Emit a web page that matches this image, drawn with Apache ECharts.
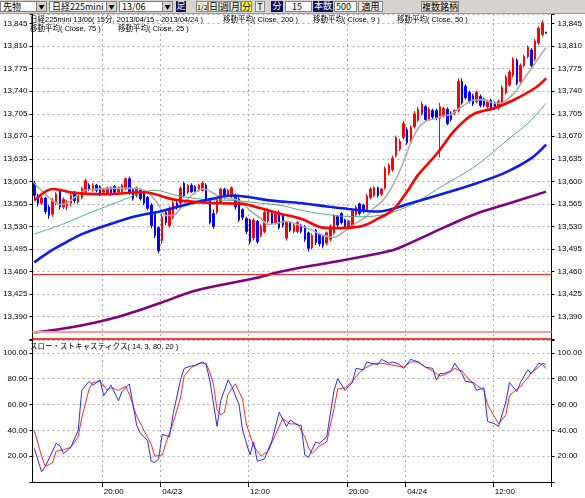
<!DOCTYPE html>
<html>
<head>
<meta charset="utf-8">
<script src="https://cdn.jsdelivr.net/npm/echarts@6/dist/echarts.min.js"></script>
<style>
  html, body { margin: 0; padding: 0; background: #fff; }
  #wrap { position: relative; width: 585px; height: 498px; overflow: hidden; }
  #chart { position: absolute; left: 0; top: 0; width: 585px; height: 498px; }
  #toolbar {
    position: absolute; left: 0; top: 0; width: 585px; height: 13px;
    background: #d6d3ce; border-bottom: 1px solid #9a9a9a; z-index: 2;
    font: 9px "Noto Sans CJK JP", sans-serif; color: #000;
  }
  .tb { position: absolute; top: 1px; height: 11px; line-height: 10px; box-sizing: border-box; white-space: nowrap; overflow: hidden; }
  .sel { background: #fff; border: 1px solid #7f7f7f; padding-left: 2px; }
  .drop { position: absolute; right: 0; top: 0; width: 9px; height: 9px; background: #d6d3ce; border-left: 1px solid #7f7f7f; font-size: 6px; text-align: center; line-height: 9px; }
  .dark { background: #10105a; color: #fff; text-align: center; }
  .btn { background: #ece9e4; border: 1px solid #8a8a8a; text-align: center; }
  .yel { background: #ffff30; border: 1px solid #8a8a8a; text-align: center; }
  .inp { background: #fff; border: 1px solid #7f7f7f; text-align: right; padding-right: 9px; }
</style>
</head>
<body>
<div id="wrap">
  <div id="toolbar">
    <div class="tb sel" style="left:0;width:47px">先物<span class="drop">▼</span></div>
    <div class="tb sel" style="left:49px;width:68px">日経225mini<span class="drop">▼</span></div>
    <div class="tb sel" style="left:119px;width:54px">13/06<span class="drop">▼</span></div>
    <div class="tb dark" style="left:176px;width:10px">足</div>
    <div class="tb btn" style="left:196px;width:12px;font-size:7px">1/2</div>
    <div class="tb btn" style="left:208px;width:11px">日</div>
    <div class="tb btn" style="left:219px;width:11px">週</div>
    <div class="tb btn" style="left:230px;width:11px">月</div>
    <div class="tb yel" style="left:241px;width:11px">分</div>
    <div class="tb btn" style="left:255px;width:10px">T</div>
    <div class="tb dark" style="left:271px;width:12px">分</div>
    <div class="tb inp" style="left:285px;width:27px">15</div>
    <div class="tb dark" style="left:313px;width:20px">本数</div>
    <div class="tb inp" style="left:334px;width:23px;padding-right:5px">500</div>
    <div class="tb btn" style="left:358px;width:25px">適用</div>
    <div class="tb btn" style="left:421px;width:38px">複数銘柄</div>
  </div>
  <div id="chart"></div>
</div>
<script>
// 15分足 [始値, 終値, 安値, 高値]
const candles = [
  [13597,13578,13572,13601],[13578,13566,13561,13581],[13566,13574,13563,13577],[13574,13553,13549,13576],
  [13560,13547,13542,13563],[13549,13570,13545,13574],[13566,13580,13563,13583],[13585,13560,13556,13588],
  [13560,13572,13557,13575],[13562,13568,13555,13571],[13566,13578,13561,13581],[13583,13570,13566,13585],
  [13568,13580,13565,13582],[13575,13589,13572,13591],[13583,13601,13580,13604],[13594,13588,13585,13597],
  [13586,13594,13584,13597],[13594,13586,13583,13596],[13592,13580,13577,13594],[13583,13587,13580,13590],
  [13582,13590,13579,13592],[13590,13580,13577,13592],[13592,13583,13580,13594],[13583,13590,13581,13592],
  [13584,13594,13582,13596],[13588,13604,13586,13606],[13604,13582,13579,13607],[13587,13573,13570,13589],
  [13578,13590,13575,13592],[13586,13573,13570,13588],[13583,13566,13563,13585],[13575,13558,13555,13577],
  [13563,13531,13527,13566],[13550,13516,13512,13552],[13528,13492,13488,13530],[13508,13545,13503,13550],
  [13552,13536,13532,13555],[13531,13558,13528,13561],[13544,13566,13541,13569],[13566,13560,13556,13569],
  [13566,13589,13563,13592],[13597,13578,13575,13599],[13583,13594,13580,13596],[13594,13584,13582,13597],
  [13592,13582,13580,13594],[13586,13594,13584,13596],[13586,13597,13584,13600],[13594,13570,13567,13597],
  [13570,13536,13533,13572],[13550,13530,13526,13556],[13552,13572,13549,13575],[13568,13588,13565,13590],
  [13588,13575,13572,13590],[13578,13586,13576,13588],[13576,13590,13574,13592],[13578,13560,13556,13581],
  [13572,13540,13537,13575],[13556,13544,13540,13558],[13542,13522,13518,13545],[13540,13506,13502,13542],
  [13512,13540,13508,13543],[13538,13506,13503,13540],[13516,13530,13513,13533],[13522,13552,13519,13555],
  [13538,13555,13535,13558],[13550,13535,13532,13553],[13536,13550,13533,13552],[13552,13528,13525,13555],
  [13546,13532,13528,13548],[13512,13536,13508,13539],[13536,13524,13521,13538],[13522,13532,13519,13534],
  [13522,13536,13519,13538],[13532,13522,13519,13534],[13530,13510,13506,13532],[13520,13496,13491,13522],
  [13497,13516,13494,13519],[13524,13505,13501,13526],[13518,13503,13499,13520],[13515,13500,13496,13517],
  [13504,13520,13501,13522],[13510,13530,13507,13533],[13520,13546,13517,13549],[13545,13532,13529,13548],
  [13550,13536,13533,13552],[13540,13530,13527,13542],[13528,13538,13525,13540],[13530,13554,13527,13557],
  [13548,13560,13545,13563],[13565,13550,13547,13567],[13563,13553,13550,13565],[13556,13577,13553,13580],
  [13575,13588,13572,13591],[13578,13590,13575,13592],[13590,13578,13575,13592],[13580,13588,13577,13590],
  [13590,13620,13587,13623],[13613,13625,13610,13628],[13618,13636,13615,13640],[13640,13668,13637,13671],
  [13650,13662,13647,13666],[13668,13690,13665,13694],[13680,13660,13657,13684],[13660,13684,13657,13687],
  [13685,13705,13682,13709],[13695,13712,13692,13716],[13705,13720,13702,13724],[13716,13696,13693,13719],
  [13697,13712,13694,13715],[13710,13700,13697,13713],[13710,13698,13695,13713],[13698,13716,13637,13722],
  [13702,13713,13699,13716],[13712,13690,13687,13715],[13706,13696,13693,13709],[13706,13710,13703,13712],
  [13710,13755,13707,13760],[13755,13722,13719,13760],[13748,13730,13727,13751],[13738,13724,13721,13741],
  [13733,13720,13717,13736],[13724,13738,13721,13741],[13732,13718,13715,13735],[13728,13718,13715,13730],
  [13716,13724,13713,13727],[13726,13713,13710,13728],[13722,13714,13711,13724],[13714,13724,13711,13727],
  [13722,13746,13719,13749],[13738,13762,13735,13765],[13750,13770,13747,13773],[13765,13790,13762,13793],
  [13788,13752,13749,13791],[13755,13780,13752,13783],[13780,13794,13777,13797],[13794,13808,13791,13811],
  [13804,13780,13777,13807],[13790,13818,13787,13821],[13815,13838,13812,13841],[13828,13846,13825,13850],
  [13832,13830,13830,13832]
];

// 移動平均 [足番号, 値]
const ma9 = [[0,13597],[3,13580],[5,13570],[7,13564],[9,13566],[11,13575],[14,13586],[17,13588],[20,13589],
  [24,13589],[28,13589],[30,13586],[32,13578],[34,13563],[36,13547],[38,13547],[40,13558],[43,13578],[46,13588],
  [48,13585],[50,13578],[53,13573],[55,13572],[57,13566],[59,13555],[62,13542],[64,13533],[66,13534],[69,13538],
  [71,13535],[73,13531],[76,13524],[79,13516],[82,13513],[84,13519],[86,13527],[88,13535],[91,13546],[93,13559],
  [95,13568],[97,13583],[99,13604],[101,13630],[103,13660],[105,13682],[107,13693],[110,13698],[112,13702],
  [114,13704],[116,13712],[118,13720],[120,13726],[122,13727],[124,13725],[126,13721],[128,13722],[130,13730],
  [132,13742],[134,13760],[136,13775],[138,13792],[140,13808]];
const ma25 = [[0,13570],[5,13588],[11,13582],[19,13580],[30,13583],[38,13572],[46,13567],[50,13566],[57,13565],
  [62,13558],[67,13550],[73,13542],[79,13528],[83,13527],[86,13528],[90,13531],[94,13542],[98,13555],[102,13584],
  [105,13610],[110,13642],[115,13679],[120,13704],[126,13714],[131,13726],[137,13745],[140,13760]];
const ma50 = [[0,13518],[8,13534],[16,13553],[23,13568],[29,13582],[33,13586],[39,13578],[46,13572],[55,13570],
  [62,13566],[68,13562],[73,13555],[82,13547],[90,13545],[96,13549],[103,13563],[112,13594],[121,13625],
  [130,13667],[135,13690],[140,13721]];
const ma75 = [[0,13474],[4,13490],[8,13503],[13,13518],[21,13534],[28,13546],[35,13554],[41,13563],[48,13572],
  [54,13578],[58,13576],[65,13570],[73,13566],[80,13561],[86,13557],[94,13553],[103,13566],[112,13581],
  [121,13597],[129,13614],[136,13636],[140,13657]];
const ma200 = [[0,13365],[11,13374],[22,13388],[34,13410],[44,13430],[60,13449],[67,13459],[73,13466],
  [87,13480],[98,13493],[102,13502],[112,13528],[121,13550],[130,13566],[140,13584]];

// スロー・ストキャスティクス [足番号, 値]
const slowK = [[0,26],[2,8],[3,12],[6,30],[7,28],[8,22],[10,27],[12,40],[13,71],[15,78],[16,75],[18,79],[19,67],
  [21,75],[23,63],[24,70],[26,76],[28,44],[29,38],[31,32],[32,16],[33,15],[34,18],[35,37],[37,35],[38,53],[40,79],
  [41,88],[43,90],[44,90],[46,93],[47,91],[48,79],[50,43],[51,63],[53,79],[54,74],[56,60],[57,40],[59,21],[60,31],
  [61,16],[63,18],[65,32],[67,54],[69,43],[70,48],[72,44],[73,44],[74,21],[75,19],[77,31],[78,30],[80,35],[82,71],
  [83,80],[85,71],[87,77],[88,88],[90,87],[91,93],[92,92],[94,91],[95,95],[97,92],[98,93],[100,91],[101,88],
  [103,95],[105,93],[107,89],[109,88],[110,79],[111,84],[112,84],[114,86],[115,92],[117,84],[118,78],[120,77],
  [121,71],[123,73],[124,47],[126,45],[127,43],[129,62],[130,77],[132,70],[133,77],[135,87],[136,84],[138,92],
  [139,91],[140,88]];
const slowD = [[0,40],[1,30],[2,20],[3,12],[5,15],[6,24],[8,25],[10,27],[12,35],[13,50],[15,72],[16,77],[18,78],
  [20,71],[21,73],[23,71],[25,74],[26,68],[28,51],[30,40],[32,29],[33,20],[35,21],[36,30],[38,46],[40,65],[41,82],
  [43,89],[45,92],[47,92],[48,85],[49,76],[50,56],[51,52],[52,54],[53,68],[55,76],[57,64],[58,45],[60,28],[61,24],
  [62,20],[64,24],[66,37],[68,49],[70,45],[72,45],[74,35],[75,27],[76,22],[78,28],[80,31],[82,57],[83,72],[85,73],
  [87,78],[89,85],[91,89],[93,92],[95,92],[97,91],[99,90],[101,89],[103,93],[105,93],[107,89],[109,86],[111,82],
  [113,84],[115,88],[117,86],[119,79],[121,75],[123,71],[124,60],[126,50],[127,45],[129,52],[130,67],[132,72],
  [133,74],[135,81],[136,85],[138,89],[139,92],[140,91]];

const priceLines = [13455, 13366, 13356];

// 足の時刻: 日中 9:00-15:15、夜間 16:30-3:00 (15分足)
function buildTimes (count) {
  const out = []
  let day = 22
  let m = 14 * 60
  while (out.length < count) {
    const inDay = m >= 540 && m < 915
    const inNight = m >= 990 || m < 180
    if (inDay || inNight) {
      const hh = String(Math.floor(m / 60)).padStart(2, '0')
      const mm = String(m % 60).padStart(2, '0')
      out.push('04/' + day + ' ' + hh + ':' + mm)
    }
    m += 15
    if (m >= 1440) { m -= 1440; day++ }
  }
  return out
}
const times = buildTimes(142)

const showTime = (i, v) => {
  const t = v.slice(-5)
  return t === '20:00' || t === '12:00' || t === '00:00'
}
const timeLabel = v => v.slice(-5) === '00:00' ? v.slice(0, 5) : v.slice(-5)

const gridDash = { color: '#b4a6bc', width: 1, type: [2, 3] }
const axisFont = { fontSize: 8, fontFamily: '"Liberation Sans", sans-serif', color: '#000' }
const legendFont = '7.5px "Liberation Sans", "Noto Sans CJK JP", sans-serif'

const priceLabel = v => {
  const r = Math.round(v)
  return (r >= 13390 && r <= 13845 && (r - 13390) % 35 === 0) ? r.toLocaleString('en-US') : ''
}
const stochLabel = v => (v >= 20 && v <= 100) ? v.toFixed(2) : ''

function priceAxis (pos, grid) {
  return {
    type: 'value', gridIndex: grid, position: pos, min: 13355, max: 13860, interval: 35, scale: true,
    axisLine: { show: true, lineStyle: { color: '#000' } },
    axisTick: { show: true, length: 3, lineStyle: { color: '#000' } },
    axisLabel: Object.assign({ margin: pos === 'left' ? 5 : 6, formatter: priceLabel }, axisFont),
    splitLine: { show: pos === 'left', lineStyle: gridDash }
  }
}
function stochAxis (pos, grid) {
  return {
    type: 'value', gridIndex: grid, position: pos, min: 0, max: 110, interval: 20,
    axisLine: { show: true, lineStyle: { color: '#000' } },
    axisTick: { show: true, length: 3, lineStyle: { color: '#000' } },
    axisLabel: Object.assign({ margin: pos === 'left' ? 5 : 6, formatter: stochLabel }, axisFont),
    splitLine: { show: pos === 'left', lineStyle: gridDash }
  }
}
function maLine (name, data, color, width) {
  return {
    name: name, type: 'line', xAxisIndex: 0, yAxisIndex: 0, data: data,
    showSymbol: false, smooth: 0.35, z: 3,
    lineStyle: { color: color, width: width }
  }
}
function legendText (text, x, y) {
  return { type: 'text', left: x, top: y, z: 10, style: { text: text, font: legendFont, fill: '#000' } }
}

const chart = echarts.init(document.getElementById('chart'))
chart.setOption({
  animation: false,
  backgroundColor: '#fff',
  grid: [
    { left: 28, right: 30, top: 14, height: 325 },
    { left: 28, right: 30, top: 340, height: 142 }
  ],
  xAxis: [
    {
      type: 'category', gridIndex: 0, data: times, boundaryGap: true,
      axisLine: { show: false }, axisTick: { show: false }, axisLabel: { show: false },
      splitLine: { show: true, interval: showTime, lineStyle: gridDash }
    },
    {
      type: 'category', gridIndex: 1, data: times, boundaryGap: true,
      axisLine: { show: true, lineStyle: { color: '#000' } },
      axisTick: { show: true, interval: showTime, length: 5, lineStyle: { color: '#000' } },
      axisLabel: Object.assign({ interval: showTime, formatter: timeLabel, align: 'left', margin: 6 }, axisFont),
      splitLine: { show: true, interval: showTime, lineStyle: gridDash }
    }
  ],
  yAxis: [priceAxis('left', 0), priceAxis('right', 0), stochAxis('left', 1), stochAxis('right', 1)],
  graphic: [
    legendText('日経225mini 13/06( 15分, 2013/04/15 - 2013/04/24 )', 30, 16),
    legendText('移動平均( Close, 200 )', 223, 16),
    legendText('移動平均( Close, 9 )', 313, 16),
    legendText('移動平均( Close, 50 )', 397, 16),
    legendText('移動平均( Close, 75 )', 30, 25),
    legendText('移動平均( Close, 25 )', 118, 25),
    legendText('スロー・ストキャスティクス( 14, 3, 80, 20 )', 30, 343)
  ],
  series: [
    {
      name: '日経225mini', type: 'candlestick', xAxisIndex: 0, yAxisIndex: 0, data: candles,
      barWidth: 2, z: 2,
      itemStyle: { color: '#ff0000', color0: '#0000ff', borderColor: '#ff0000', borderColor0: '#0000ff', borderWidth: 1 },
      markLine: {
        silent: true, symbol: 'none', label: { show: false },
        data: [
          { yAxis: priceLines[0], lineStyle: { color: '#ff2020', width: 1.2, type: 'solid' } },
          { yAxis: priceLines[1], lineStyle: { color: '#ff9a9a', width: 2, type: 'solid' } },
          { yAxis: priceLines[2], lineStyle: { color: '#ff0000', width: 1.5, type: 'solid' } }
        ]
      }
    },
    maLine('移動平均( Close, 200 )', ma200, '#800080', 2.6),
    maLine('移動平均( Close, 9 )', ma9, '#adadad', 1.6),
    maLine('移動平均( Close, 50 )', ma50, '#4cb37c', 1),
    maLine('移動平均( Close, 75 )', ma75, '#0a1cf0', 2.6),
    maLine('移動平均( Close, 25 )', ma25, '#ff0000', 2.6),
    {
      name: '%D', type: 'line', xAxisIndex: 1, yAxisIndex: 2, data: slowD,
      showSymbol: false, lineStyle: { color: '#ff2a2a', width: 1 }
    },
    {
      name: '%K', type: 'line', xAxisIndex: 1, yAxisIndex: 2, data: slowK,
      showSymbol: false, lineStyle: { color: '#2a2aff', width: 1 }
    }
  ]
})
</script>
</body>
</html>
